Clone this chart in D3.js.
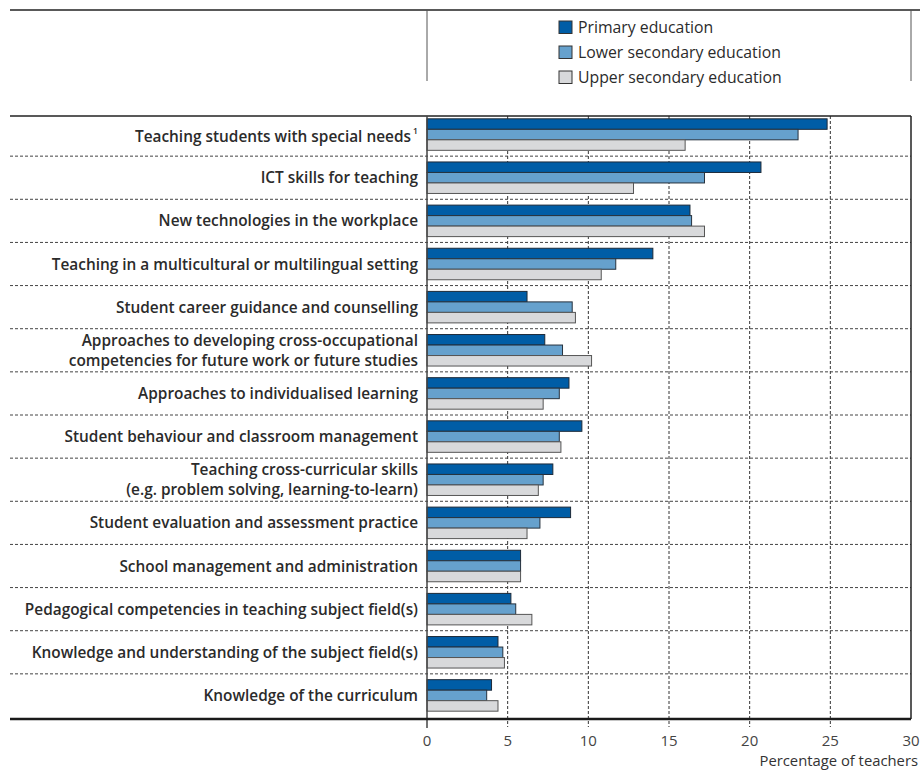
<!DOCTYPE html>
<html lang="en">
  <head>
    <meta charset="UTF-8" />
    <title>Teachers' professional development needs</title>
    <script src="https://d3js.org/d3.v7.min.js"></script>
    <style>
      body {
        margin: 0;
        background: #fff;
      }
      svg text {
        font-family: 'Open Sans', 'DejaVu Sans', sans-serif;
        fill: #2b2b2b;
      }
      .cat {
        font-weight: 600;
        font-size: 15.4px;
      }
      .tick-label {
        font-size: 15px;
        fill: #444;
      }
      .legend text {
        font-size: 15.8px;
      }
    </style>
  </head>
  <body>
    <div id="chart"></div>
    <script>
      // categories (top to bottom); a line break is marked with |
      const categories = [
        'Teaching students with special needs',
        'ICT skills for teaching',
        'New technologies in the workplace',
        'Teaching in a multicultural or multilingual setting',
        'Student career guidance and counselling',
        'Approaches to developing cross-occupational|competencies for future work or future studies',
        'Approaches to individualised learning',
        'Student behaviour and classroom management',
        'Teaching cross-curricular skills|(e.g. problem solving, learning-to-learn)',
        'Student evaluation and assessment practice',
        'School management and administration',
        'Pedagogical competencies in teaching subject field(s)',
        'Knowledge and understanding of the subject field(s)',
        'Knowledge of the curriculum',
      ];

      const seriesNames = [
        'Primary education',
        'Lower secondary education',
        'Upper secondary education',
      ];

      const primary = [24.8, 20.7, 16.3, 14.0, 6.2, 7.3, 8.8, 9.6, 7.8, 8.9, 5.8, 5.2, 4.4, 4.0];
      const lowerSecondary = [23.0, 17.2, 16.4, 11.7, 9.0, 8.4, 8.2, 8.2, 7.2, 7.0, 5.8, 5.5, 4.7, 3.7];
      const upperSecondary = [16.0, 12.8, 17.2, 10.8, 9.2, 10.2, 7.2, 8.3, 6.9, 6.2, 5.8, 6.5, 4.8, 4.4];

      const xTicks = [0, 5, 10, 15, 20, 25, 30];

      const colors = ['#005da6', '#66a1cd', '#d8d9db'];
      const strokes = ['#1d2a38', '#26323e', '#555'];

      const width = 920,
        height = 770;

      const svg = d3
        .select('#chart')
        .append('svg')
        .attr('width', width)
        .attr('height', height);

      const x = d3.scaleLinear().domain([0, 30]).range([427, 911]);
      const y = d3.scaleBand().domain(categories).range([113, 717]);
      const groupH = 31.5;
      const yInner = d3.scaleBand().domain(seriesNames).range([0, groupH]);

      const plotTop = 116,
        plotBottom = 719,
        left = 10;

      // header frame
      svg.append('line')
        .attr('x1', left).attr('x2', width)
        .attr('y1', 10).attr('y2', 10)
        .attr('stroke', '#222').attr('stroke-width', 1.5);
      [x(0), x(30)].forEach((xx) => {
        svg.append('line')
          .attr('x1', xx).attr('x2', xx)
          .attr('y1', 10).attr('y2', 81)
          .attr('stroke', '#555').attr('stroke-width', 1);
      });

      // legend
      const legend = svg.append('g').attr('class', 'legend');
      seriesNames.forEach((s, i) => {
        const g = legend.append('g').attr('transform', `translate(559,${21 + i * 25})`);
        g.append('rect')
          .attr('width', 13).attr('height', 12.5)
          .attr('fill', colors[i])
          .attr('stroke', '#333').attr('stroke-width', 1);
        g.append('text').attr('x', 19).attr('y', 12).text(s);
      });

      // vertical gridlines
      xTicks.slice(1, -1).forEach((t) => {
        svg.append('line')
          .attr('x1', x(t)).attr('x2', x(t))
          .attr('y1', plotTop).attr('y2', 727)
          .attr('stroke', '#333').attr('stroke-width', 1)
          .attr('stroke-dasharray', '3,2');
      });

      // horizontal separators
      categories.slice(1).forEach((c) => {
        svg.append('line')
          .attr('x1', left).attr('x2', x(30))
          .attr('y1', y(c)).attr('y2', y(c))
          .attr('stroke', '#444').attr('stroke-width', 1)
          .attr('stroke-dasharray', '3,2');
      });

      // bars
      const seriesValues = [primary, lowerSecondary, upperSecondary];
      categories.forEach((c, ci) => {
        const g0 = y(c) + (y.bandwidth() - groupH) / 2;
        seriesNames.forEach((s, si) => {
          svg.append('rect')
            .attr('x', x(0))
            .attr('y', g0 + yInner(s))
            .attr('width', x(seriesValues[si][ci]) - x(0))
            .attr('height', yInner.bandwidth())
            .attr('fill', colors[si])
            .attr('stroke', strokes[si])
            .attr('stroke-width', 1);
        });
      });

      // frame lines
      svg.append('line')
        .attr('x1', left).attr('x2', x(30))
        .attr('y1', plotTop).attr('y2', plotTop)
        .attr('stroke', '#222').attr('stroke-width', 1.5);
      svg.append('line')
        .attr('x1', x(0)).attr('x2', x(0))
        .attr('y1', plotTop).attr('y2', 728)
        .attr('stroke', '#444').attr('stroke-width', 1.5);
      svg.append('line')
        .attr('x1', x(30)).attr('x2', x(30))
        .attr('y1', plotTop).attr('y2', plotBottom)
        .attr('stroke', '#222').attr('stroke-width', 1.5);
      svg.append('line')
        .attr('x1', left).attr('x2', x(30))
        .attr('y1', plotBottom).attr('y2', plotBottom)
        .attr('stroke', '#1a1a1a').attr('stroke-width', 2.5);

      // category labels
      categories.forEach((c, ci) => {
        const lines = c.split('|');
        const cy = y(c) + y.bandwidth() / 2;
        const t = svg.append('text')
          .attr('class', 'cat')
          .attr('text-anchor', 'end')
          .attr('x', 418)
          .attr('y', cy + 5.5 - (lines.length - 1) * 10);
        lines.forEach((ln, li) => {
          t.append('tspan').attr('x', 418).attr('dy', li === 0 ? 0 : 20).text(ln);
        });
        if (ci === 0) {
          t.attr('x', 411).attr('y', cy + 7.5);
          t.select('tspan').attr('x', 411);
          svg.append('text')
            .attr('x', 413).attr('y', cy - 1)
            .attr('font-size', 8.5).attr('font-weight', 600)
            .text('1');
        }
      });

      // x axis labels
      xTicks.forEach((t) => {
        svg.append('text')
          .attr('class', 'tick-label')
          .attr('text-anchor', 'middle')
          .attr('x', x(t)).attr('y', 746)
          .text(t);
      });
      svg.append('text')
        .attr('text-anchor', 'end')
        .attr('x', 918).attr('y', 766)
        .attr('font-size', 14.8)
        .style('fill', '#333')
        .text('Percentage of teachers');
    </script>
  </body>
</html>
